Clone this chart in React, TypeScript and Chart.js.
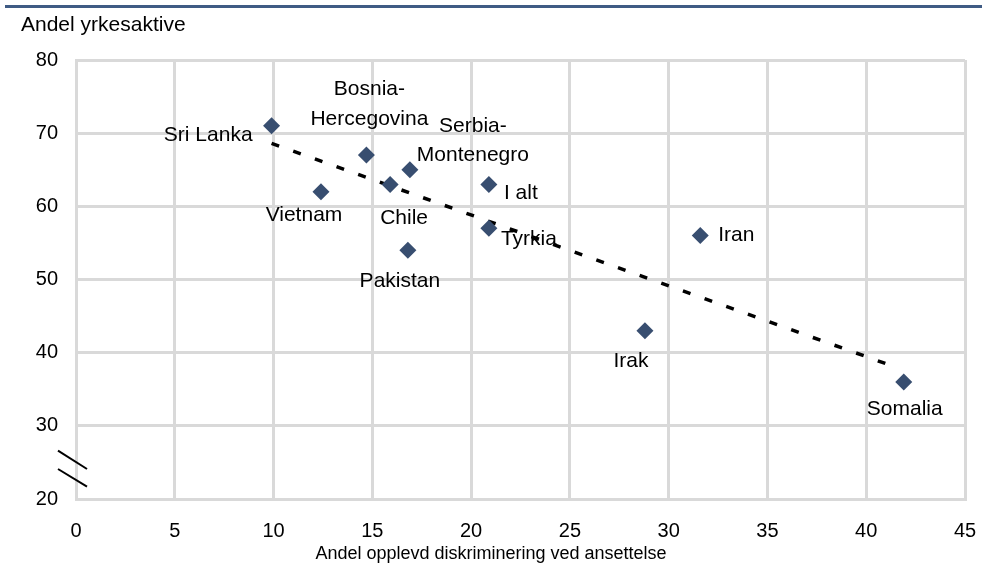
import React, { useEffect, useRef } from "react";
import { Chart, registerables } from "chart.js";

Chart.register(...registerables);

// ---- data ----
const countries = [
  "Sri Lanka",
  "Vietnam",
  "Bosnia-\nHercegovina",
  "Chile",
  "Serbia-\nMontenegro",
  "Pakistan",
  "I alt",
  "Tyrkia",
  "Iran",
  "Irak",
  "Somalia",
];
const discrimination = [9.9, 12.4, 14.7, 15.9, 16.9, 16.8, 20.9, 20.9, 31.6, 28.8, 41.9];
const employment = [71, 62, 67, 63, 65, 54, 63, 57, 56, 43, 36];

const trendX = [9.9, 41.3];
const trendY = [68.6, 38.2];

const xTicks = [0, 5, 10, 15, 20, 25, 30, 35, 40, 45];
const yTicks = [20, 30, 40, 50, 60, 70, 80];

const xTitle = "Andel opplevd diskriminering ved ansettelse";
const yTitle = "Andel yrkesaktive";

// ---- label placement (styling) ----
const labelPlacement: { dx: number; dy: number; align: CanvasTextAlign }[] = [
  { dx: -19, dy: 9, align: "right" }, // Sri Lanka
  { dx: -17, dy: 24, align: "center" }, // Vietnam
  { dx: 3, dy: -51, align: "center" }, // Bosnia
  { dx: 14, dy: 34, align: "center" }, // Chile
  { dx: 63, dy: -29, align: "center" }, // Serbia
  { dx: -8, dy: 31, align: "center" }, // Pakistan
  { dx: 15, dy: 9, align: "left" }, // I alt
  { dx: 12, dy: 11, align: "left" }, // Tyrkia
  { dx: 18, dy: 0, align: "left" }, // Iran
  { dx: -14, dy: 30, align: "center" }, // Irak
  { dx: 1, dy: 27, align: "center" }, // Somalia
];

const FONT = "'Liberation Sans', Arial, sans-serif";
const GRID = "#d9d9d9";
const MARKER = "#384e70";

const decorPlugin = {
  id: "decor",
  afterDraw(chart: any) {
    const ctx = chart.ctx as CanvasRenderingContext2D;
    const ys = chart.scales.y;
    ctx.save();
    // top blue rule
    ctx.fillStyle = "#3f5b84";
    ctx.fillRect(5, 5, chart.width - 5, 3);

    // y title
    ctx.fillStyle = "#000";
    ctx.font = `21px ${FONT}`;
    ctx.textAlign = "left";
    ctx.textBaseline = "middle";
    ctx.fillText(yTitle, 21, 25);

    // x title
    ctx.font = `18px ${FONT}`;
    ctx.textAlign = "center";
    ctx.fillText(xTitle, 491, 554);

    // axis break marks
    const left = chart.chartArea.left;
    ctx.strokeStyle = "#000";
    ctx.lineWidth = 2;
    const pairs = [
      [26.6, 24.1],
      [24.1, 21.7],
    ];
    for (const [a, b] of pairs) {
      ctx.beginPath();
      ctx.moveTo(left - 18, ys.getPixelForValue(a));
      ctx.lineTo(left + 11, ys.getPixelForValue(b));
      ctx.stroke();
    }

    // data labels
    const meta = chart.getDatasetMeta(0);
    ctx.font = `21px ${FONT}`;
    ctx.fillStyle = "#000";
    ctx.textBaseline = "middle";
    meta.data.forEach((pt: any, i: number) => {
      const p = labelPlacement[i];
      const lines = countries[i].split("\n");
      const lh = 29.5;
      ctx.textAlign = p.align;
      lines.forEach((ln, j) => {
        const y = pt.y + p.dy + (j - (lines.length - 1) / 2) * lh;
        ctx.fillText(ln, pt.x + p.dx, y);
      });
    });
    ctx.restore();
  },
};

export default function App() {
  const ref = useRef<HTMLCanvasElement>(null);
  useEffect(() => {
    document.body.style.margin = "0";
    const canvas = ref.current!;
    const chart = new Chart(canvas, {
      type: "scatter",
      data: {
        datasets: [
          {
            label: "Land",
            data: discrimination.map((x, i) => ({ x, y: employment[i] })),
            pointStyle: "rectRot",
            pointRadius: 8.5,
            pointHoverRadius: 8.5,
            backgroundColor: MARKER,
            borderColor: MARKER,
            borderWidth: 0,
            order: 1,
          },
          {
            type: "line",
            label: "Trend",
            data: trendX.map((x, i) => ({ x, y: trendY[i] })),
            borderColor: "#000",
            borderWidth: 3.5,
            borderDash: [8, 15],
            pointRadius: 0,
            fill: false,
            order: 2,
          } as any,
        ],
      },
      options: {
        responsive: false,
        animation: false,
        layout: { padding: { top: 60, right: 17, left: 0, bottom: 0 } },
        plugins: { legend: { display: false }, tooltip: { enabled: false } },
        scales: {
          x: {
            type: "linear",
            min: 0,
            max: 45,
            afterFit: (s: any) => {
              s.height = 80;
              s.paddingLeft = 0;
              s.paddingRight = 0;
            },
            afterBuildTicks: (s: any) => {
              s.ticks = xTicks.map((v) => ({ value: v }));
            },
            grid: { color: GRID, lineWidth: 3, drawTicks: false },
            border: { display: true, color: GRID, width: 3 },
            ticks: {
              padding: 20,
              color: "#000",
              font: { family: FONT, size: 20 },
            },
          },
          y: {
            type: "linear",
            min: 20,
            max: 80,
            afterFit: (s: any) => {
              s.width = 76;
              s.paddingTop = 0;
              s.paddingBottom = 0;
            },
            afterBuildTicks: (s: any) => {
              s.ticks = yTicks.map((v) => ({ value: v }));
            },
            grid: { color: GRID, lineWidth: 3, drawTicks: false },
            border: { display: true, color: GRID, width: 3 },
            ticks: {
              padding: 18,
              color: "#000",
              font: { family: FONT, size: 20 },
            },
          },
        },
      },
      plugins: [decorPlugin],
    });
    return () => chart.destroy();
  }, []);
  return (
    <div style={{ width: 982, height: 579, background: "#fff" }}>
      <canvas ref={ref} width={982} height={579} />
    </div>
  );
}
